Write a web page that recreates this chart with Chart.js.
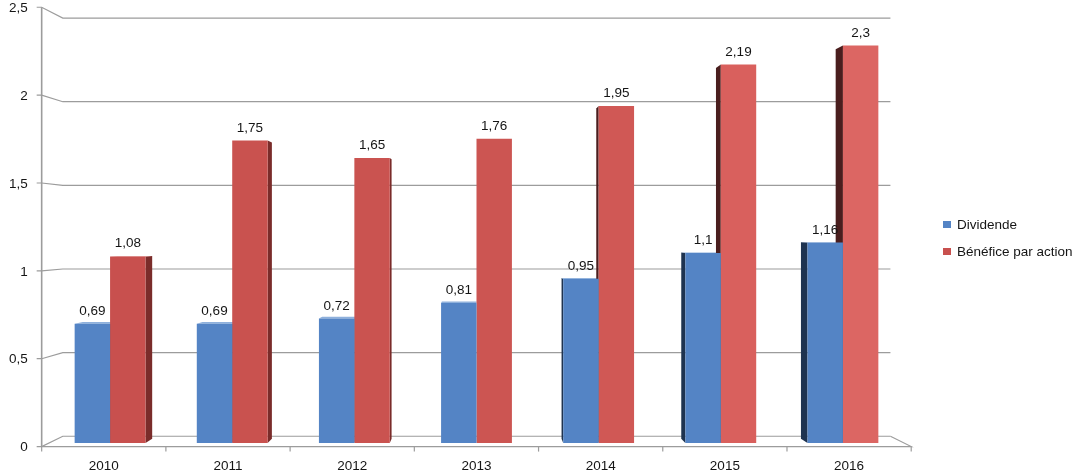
<!DOCTYPE html>
<html>
<head>
<meta charset="utf-8">
<script src="https://cdn.jsdelivr.net/npm/chart.js@4.4.1/dist/chart.umd.min.js"></script>
<style>
  html, body { margin: 0; padding: 0; background: #fff; }
  canvas { display: block; }
</style>
</head>
<body>
<canvas id="my_chart" width="1079" height="474"></canvas>
<script>
const years = ['2010', '2011', '2012', '2013', '2014', '2015', '2016'];
const dividende = [0.69, 0.69, 0.72, 0.81, 0.95, 1.1, 1.16];
const benefice = [1.08, 1.75, 1.65, 1.76, 1.95, 2.19, 2.3];
const series_names = ['Dividende', 'Bénéfice par action'];
const y_ticks = [0, 0.5, 1, 1.5, 2, 2.5];
const y_tick_labels = ['0', '0,5', '1', '1,5', '2', '2,5'];

const FONT = '13.5px "Liberation Sans", Arial, sans-serif';
const TEXT_COLOR = '#151515';

// fake excel 3d look: everything is pushed toward a vanishing point
const VX = 480, VY = 232;
const FRONT = 1.017, BACK = 0.968, BAR_DEPTH = 0.98;

function persp(x, y, k) {
  return [VX + (x - VX) * k, VY + (y - VY) * k];
}

function fmt(v) {
  return String(v).replace('.', ',');
}

const blue = '#5484c5';
const reds = ['#c8504e', '#c9524f', '#ca5350', '#cc5552', '#d05855', '#d9605d', '#dc6663'];

const face_colors = [
  { right: '#2b4a74', left: '#1e3350', top: '#8eb0dc' },
  { right: '#7a2c2a', left: '#4a1e1e', top: '#e48b88' }
];

function poly(ctx, pts, color) {
  ctx.beginPath();
  ctx.moveTo(pts[0][0], pts[0][1]);
  for (let i = 1; i < pts.length; i++) ctx.lineTo(pts[i][0], pts[i][1]);
  ctx.closePath();
  ctx.fillStyle = color;
  ctx.fill();
}

const frame_plugin = {
  id: 'frame3d',
  beforeDatasetsDraw(chart) {
    const ctx = chart.ctx;
    const xs = chart.scales.x, ys = chart.scales.y;
    const left = xs.left, right = xs.right;
    ctx.save();
    ctx.strokeStyle = '#9c9c9c';
    ctx.lineWidth = 1.2;

    // back wall grid lines + slanted bits to the front axis
    y_ticks.forEach(function(v) {
      const p = ys.getPixelForValue(v);
      const f = persp(left, p, FRONT);
      const b = persp(left, p, BACK);
      const br = persp(right, p, BACK);
      ctx.beginPath();
      ctx.moveTo(f[0] - 5, f[1]);
      ctx.lineTo(f[0], f[1]);
      ctx.lineTo(b[0], b[1]);
      ctx.lineTo(br[0], br[1]);
      ctx.stroke();
    });

    // left axis
    const top_f = persp(left, ys.getPixelForValue(2.5), FRONT);
    const bot_f = persp(left, ys.getPixelForValue(0), FRONT);
    ctx.lineWidth = 1.6;
    ctx.beginPath();
    ctx.moveTo(top_f[0], top_f[1]);
    ctx.lineTo(bot_f[0], bot_f[1]);
    ctx.stroke();

    // floor
    const z = ys.getPixelForValue(0);
    const fr = persp(right, z, FRONT);
    const br = persp(right, z, BACK);
    ctx.lineWidth = 1.2;
    ctx.beginPath();
    ctx.moveTo(bot_f[0], bot_f[1]);
    ctx.lineTo(fr[0], fr[1]);
    ctx.lineTo(br[0], br[1]);
    ctx.stroke();

    // category ticks under the floor
    const step = xs.getPixelForValue(1) - xs.getPixelForValue(0);
    for (let i = 0; i <= years.length; i++) {
      const bx = xs.getPixelForValue(0) - step / 2 + i * step;
      const t = persp(bx, z, FRONT);
      ctx.beginPath();
      ctx.moveTo(t[0], t[1]);
      ctx.lineTo(t[0], t[1] + 5);
      ctx.stroke();
    }

    // side / top faces of the bars, drawn before the fronts
    chart.data.datasets.forEach(function(ds, di) {
      const meta = chart.getDatasetMeta(di);
      meta.data.forEach(function(bar) {
        const p = bar.getProps(['x', 'y', 'base', 'width'], true);
        const l = p.x - p.width / 2, r = p.x + p.width / 2;
        const c = face_colors[di];
        if (r < VX) {
          poly(ctx, [[r, p.y], persp(r, p.y, BAR_DEPTH), persp(r, p.base, BAR_DEPTH), [r, p.base]], c.right);
        }
        if (l > VX) {
          poly(ctx, [[l, p.y], persp(l, p.y, BAR_DEPTH), persp(l, p.base, BAR_DEPTH), [l, p.base]], c.left);
        }
        if (p.y > VY) {
          poly(ctx, [[l, p.y], [r, p.y], persp(r, p.y, BAR_DEPTH), persp(l, p.y, BAR_DEPTH)], c.top);
        }
      });
    });
    ctx.restore();
  },
  afterDatasetsDraw(chart) {
    const ctx = chart.ctx;
    ctx.save();
    ctx.font = FONT;
    ctx.fillStyle = TEXT_COLOR;
    ctx.textAlign = 'center';
    ctx.textBaseline = 'alphabetic';
    chart.data.datasets.forEach(function(ds, di) {
      chart.getDatasetMeta(di).data.forEach(function(bar, i) {
        ctx.fillText(fmt(ds.data[i]), bar.x, bar.y - 9);
      });
    });
    ctx.restore();
  },
  afterDraw(chart) {
    const ctx = chart.ctx;
    const xs = chart.scales.x, ys = chart.scales.y;
    ctx.save();
    ctx.font = FONT;
    ctx.fillStyle = TEXT_COLOR;

    // y labels on the front axis
    ctx.textAlign = 'right';
    ctx.textBaseline = 'middle';
    y_ticks.forEach(function(v, i) {
      const f = persp(xs.left, ys.getPixelForValue(v), FRONT);
      ctx.fillText(y_tick_labels[i], f[0] - 14, f[1] + 1);
    });

    // x labels
    ctx.textAlign = 'center';
    const z = ys.getPixelForValue(0);
    years.forEach(function(y, i) {
      const f = persp(xs.getPixelForValue(i), z, FRONT);
      ctx.fillText(y, f[0], f[1] + 20);
    });

    // legend
    ctx.textAlign = 'left';
    chart.data.datasets.forEach(function(ds, di) {
      const yy = 221 + di * 27;
      ctx.fillStyle = di === 0 ? blue : reds[0];
      ctx.fillRect(943, yy, 8, 7);
      ctx.fillStyle = TEXT_COLOR;
      ctx.fillText(ds.label, 957, yy + 4);
    });
    ctx.restore();
  }
};

function create_chart() {
  const data = {
    labels: years,
    datasets: [{
      label: series_names[0],
      data: dividende,
      backgroundColor: blue,
      borderWidth: 0
    }, {
      label: series_names[1],
      data: benefice,
      backgroundColor: reds,
      borderWidth: 0
    }]
  };

  const config = {
    type: 'bar',
    data,
    options: {
      responsive: false,
      animation: false,
      layout: {
        padding: { left: 49, top: 11, right: 175, bottom: 31 }
      },
      datasets: {
        bar: { categoryPercentage: 0.58, barPercentage: 1.0 }
      },
      scales: {
        x: { display: false },
        y: {
          display: false,
          min: 0,
          max: 2.5,
          afterBuildTicks: function(scale) {
            scale.ticks = y_ticks.map(function(v) { return { value: v }; });
          }
        }
      },
      plugins: {
        legend: { display: false },
        tooltip: { enabled: false }
      }
    },
    plugins: [frame_plugin]
  };

  new Chart(document.getElementById('my_chart').getContext('2d'), config);
}

create_chart();
</script>
</body>
</html>
